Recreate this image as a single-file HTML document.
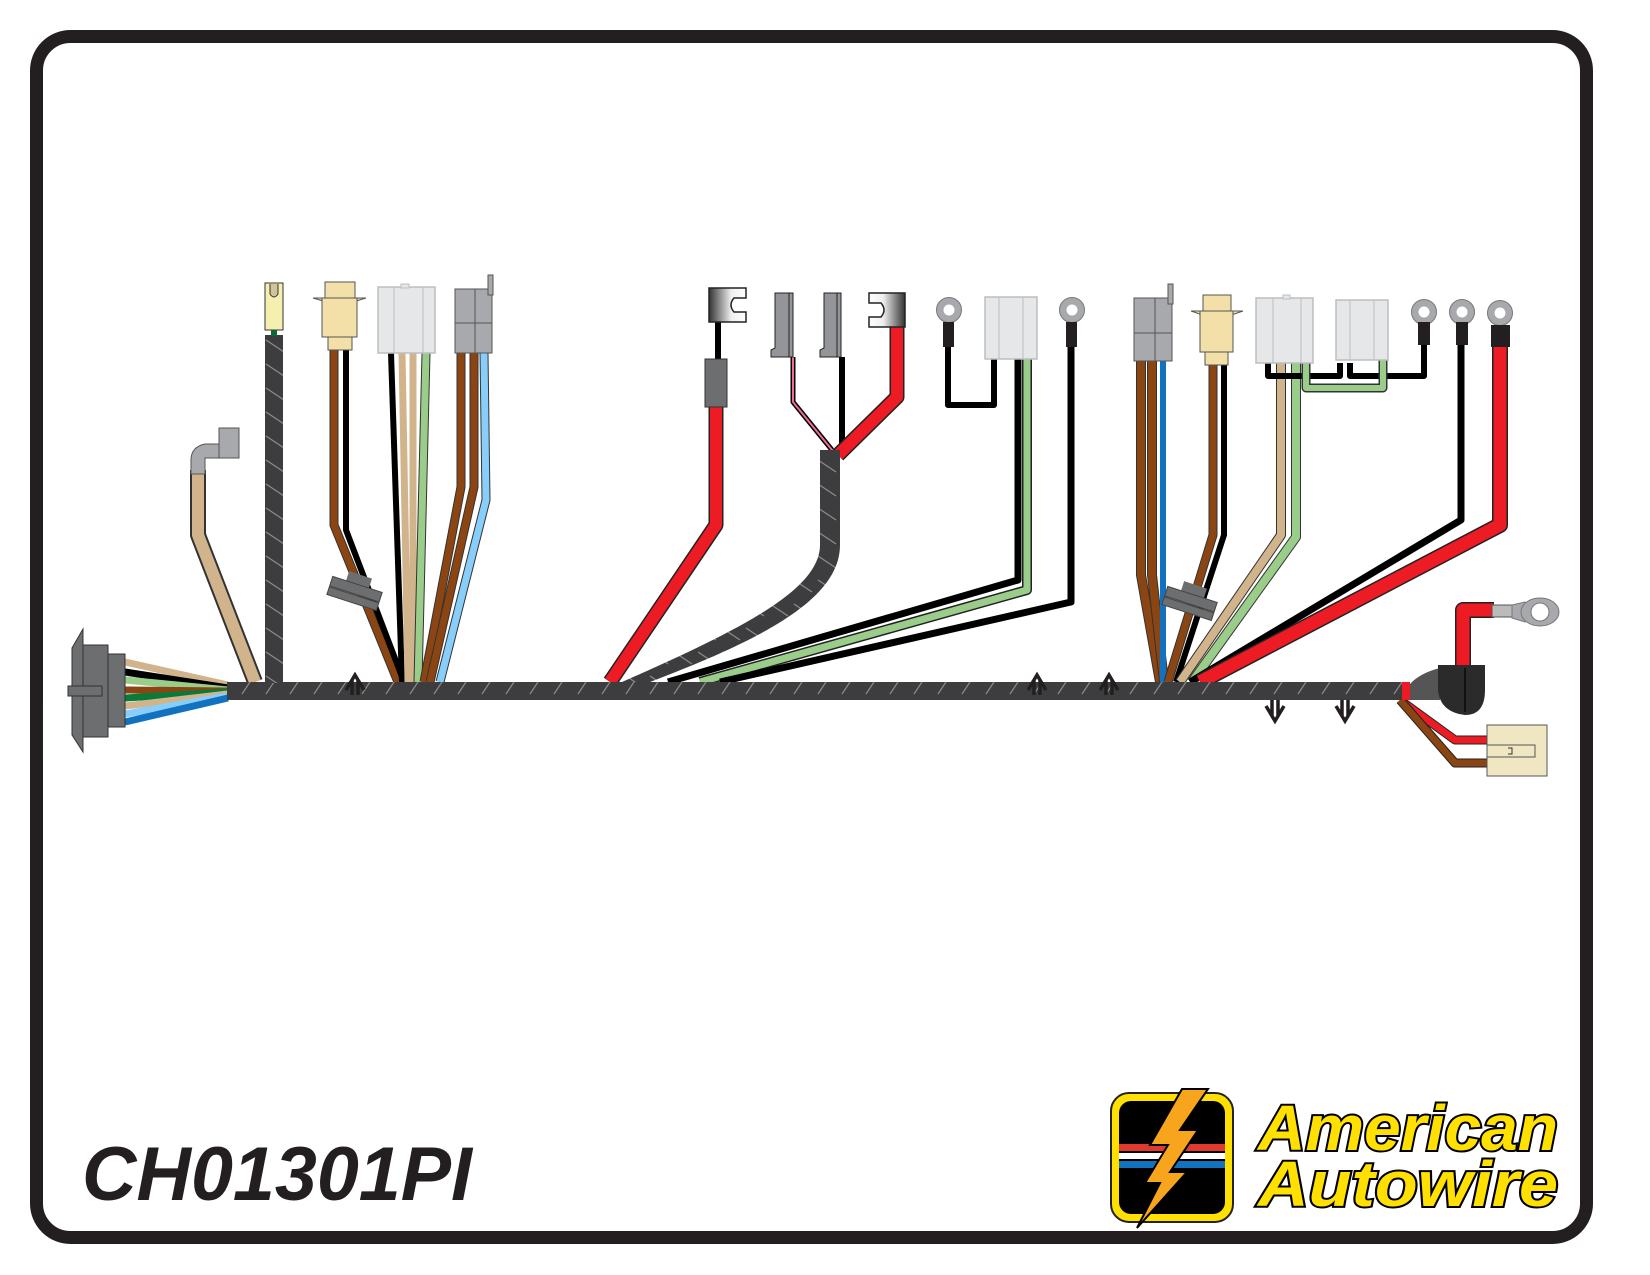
<!DOCTYPE html>
<html><head><meta charset="utf-8"><style>
html,body{margin:0;padding:0;background:#fff;}
svg{display:block;}
</style></head><body>
<svg width="1650" height="1275" viewBox="0 0 1650 1275" xmlns="http://www.w3.org/2000/svg">
<defs>
<pattern id="hatch" patternUnits="userSpaceOnUse" width="24" height="24" patternTransform="rotate(0)">
<rect width="24" height="24" fill="#3d3d3f"/>
<line x1="2" y1="22" x2="14" y2="4" stroke="#8a8a8a" stroke-width="1.2"/>
</pattern>
<pattern id="hatchv" patternUnits="userSpaceOnUse" width="24" height="24">
<rect width="24" height="24" fill="#3d3d3f"/>
<line x1="2" y1="4" x2="20" y2="16" stroke="#8a8a8a" stroke-width="1.2"/>
</pattern>
</defs>
<!-- frame -->
<rect x="36.5" y="36.5" width="1550" height="1201" rx="34" fill="#fff" stroke="#231f20" stroke-width="13"/>

<g stroke-linejoin="round" fill="none">
<!-- left fan wires -->
<g stroke-width="7">
<path d="M125 662 L228 685" stroke="#d2b48c"/>
<path d="M125 672 L228 688" stroke="#000"/>
<path d="M125 680 L228 690" stroke="#9acd8a"/>
<path d="M125 690 L228 691" stroke="#8b4513"/>
<path d="M125 698 L228 692" stroke="#0a7a3a"/>
<path d="M125 706 L228 694" stroke="#d2b48c"/>
<path d="M125 714 L228 696" stroke="#87cefa"/>
<path d="M125 722 L228 698" stroke="#1272c0"/>
</g>

<!-- tan wire to elbow -->
<path d="M198 470 L198 535 L255 682" stroke="#333" stroke-width="16"/>
<path d="M198 470 L198 535 L255 682" stroke="#d2b48c" stroke-width="12"/>

<!-- brown/black pair left -->
<path d="M334 350 L334 525 L398 682" stroke="#333" stroke-width="9"/>
<path d="M334 350 L334 525 L398 682" stroke="#8b4513" stroke-width="7"/>
<path d="M346 350 L346 530 L404 682" stroke="#000" stroke-width="6"/>
<!-- white connector wires -->
<path d="M391 353 L402 682" stroke="#000" stroke-width="6"/>
<path d="M402 353 L408 682" stroke="#d2b48c" stroke-width="7"/>
<path d="M413 353 L413 682" stroke="#d2b48c" stroke-width="7"/>
<path d="M426 353 L418 682" stroke="#333" stroke-width="9"/>
<path d="M426 353 L418 682" stroke="#9acd8a" stroke-width="7"/>
<!-- gray connector wires -->
<path d="M461 353 L461 487 L424 682" stroke="#333" stroke-width="9"/>
<path d="M461 353 L461 487 L424 682" stroke="#8b4513" stroke-width="7"/>
<path d="M474 353 L474 487 L430 682" stroke="#333" stroke-width="9"/>
<path d="M474 353 L474 487 L430 682" stroke="#8b4513" stroke-width="7"/>
<path d="M484 353 L486 500 L440 682" stroke="#333" stroke-width="9"/>
<path d="M484 353 L486 500 L440 682" stroke="#87cefa" stroke-width="7"/>

<!-- red wire middle -->
<path d="M718 322 L718 360" stroke="#000" stroke-width="6"/>
<path d="M716 407 L716 525 L610 682" stroke="#222" stroke-width="15"/>
<path d="M716 407 L716 525 L610 682" stroke="#ed1c24" stroke-width="12"/>
<!-- pink/black/red from spades -->
<path d="M793 357 L793 402 L832 450" stroke="#000" stroke-width="5"/>
<path d="M793 357 L793 402 L832 450" stroke="#f06a9a" stroke-width="2"/>
<path d="M842 357 L842 452" stroke="#000" stroke-width="6"/>
<path d="M897 327 L897 397 L838 455" stroke="#222" stroke-width="15"/>
<path d="M897 327 L897 397 L838 455" stroke="#ed1c24" stroke-width="12"/>
<!-- ring1 black loop -->
<path d="M948 345 L948 405 L994 405 L994 359" stroke="#000" stroke-width="6"/>
<!-- long black & green -->
<path d="M1018 359 L1018 580 L668 682" stroke="#000" stroke-width="7"/>
<path d="M1027 359 L1027 590 L700 682" stroke="#222" stroke-width="10"/>
<path d="M1027 359 L1027 590 L700 682" stroke="#9acd8a" stroke-width="7"/>
<path d="M1071 345 L1071 602 L720 682" stroke="#000" stroke-width="7"/>

<!-- right group -->
<path d="M1141 361 L1141 575 L1160 682" stroke="#333" stroke-width="10"/>
<path d="M1141 361 L1141 575 L1160 682" stroke="#8b4513" stroke-width="8"/>
<path d="M1152 361 L1152 575 L1164 682" stroke="#333" stroke-width="10"/>
<path d="M1152 361 L1152 575 L1164 682" stroke="#8b4513" stroke-width="8"/>
<path d="M1163 361 L1163 682" stroke="#1272c0" stroke-width="6"/>
<path d="M1213 365 L1213 535 L1168 682" stroke="#333" stroke-width="9"/>
<path d="M1213 365 L1213 535 L1168 682" stroke="#8b4513" stroke-width="7"/>
<path d="M1224 365 L1224 535 L1176 682" stroke="#000" stroke-width="6"/>
<path d="M1281 363 L1281 535 L1180 682" stroke="#333" stroke-width="10"/>
<path d="M1281 363 L1281 535 L1180 682" stroke="#d2b48c" stroke-width="8"/>
<path d="M1296 363 L1296 537 L1192 682" stroke="#333" stroke-width="10"/>
<path d="M1296 363 L1296 537 L1192 682" stroke="#9acd8a" stroke-width="8"/>
<!-- black/green loops top right -->
<path d="M1268 363 L1268 376 L1340 376 L1340 363 M1350 363 L1350 376 L1424 376 L1424 345" stroke="#000" stroke-width="6"/>
<path d="M1306 363 L1306 388 L1383 388 L1383 360" stroke="#333" stroke-width="9"/>
<path d="M1306 363 L1306 388 L1383 388 L1383 360" stroke="#9acd8a" stroke-width="6"/>
<path d="M1461 345 L1461 520 L1190 682" stroke="#000" stroke-width="7"/>
<path d="M1500 345 L1500 525 L1200 682" stroke="#222" stroke-width="16"/>
<path d="M1500 345 L1500 525 L1200 682" stroke="#ed1c24" stroke-width="13"/>

<!-- right end wires -->
<path d="M1463 665 L1463 610 L1494 610" stroke="#222" stroke-width="16"/>
<path d="M1463 665 L1463 610 L1494 610" stroke="#ed1c24" stroke-width="13"/>
<path d="M1400 700 L1455 740 L1488 740" stroke="#222" stroke-width="9"/>
<path d="M1400 700 L1455 740 L1488 740" stroke="#ed1c24" stroke-width="7"/>
<path d="M1400 700 L1455 763 L1488 763" stroke="#222" stroke-width="9"/>
<path d="M1400 700 L1455 763 L1488 763" stroke="#8b4513" stroke-width="7"/>
</g>

<!-- main harness -->
<rect x="227" y="682" width="1175" height="18" fill="url(#hatch)"/>
<rect x="1402" y="682" width="8" height="18" fill="#ed1c24"/>
<!-- vertical branch -->
<rect x="265" y="335" width="18" height="348" fill="url(#hatchv)"/>
<!-- curved sleeve -->
<path d="M820 450 L840 450 L840 545 C840 600 760 640 650 682 L622 682 C740 630 820 590 820 545 Z" fill="url(#hatchv)"/>

<!-- left connector -->
<path d="M72 648 L83 629 L83 752 L72 735 Z" fill="#6d6e70" stroke="#333"/>
<rect x="83" y="645" width="25" height="92" fill="#6d6e70" stroke="#333"/>
<rect x="108" y="654" width="17" height="73" fill="#6d6e70" stroke="#333"/>
<rect x="68" y="686" width="34" height="10" fill="#6d6e70" stroke="#333"/>

<!-- elbow -->
<path d="M191 474 L191 460 Q191 447 205 444 L219 444 L219 458 L205 458 L205 474 Z" fill="#a7a9ac" stroke="#555"/>
<rect x="219" y="428" width="20" height="30" fill="#a7a9ac" stroke="#555"/>

<!-- small yellow terminal -->
<rect x="265" y="283" width="18" height="47" fill="#f5efb0" stroke="#333"/>
<path d="M270 284 L270 294 Q274 300 278 294 L278 284" fill="#cfc49e" stroke="#333"/>
<rect x="271" y="330" width="6" height="6" fill="#0a6a30"/>

<!-- tan connector left -->
<rect x="325" y="282" width="30" height="16" fill="#f3dfa8" stroke="#555"/>
<path d="M313 298 L366 298 L340 306 Z" fill="#f3dfa8" stroke="#555"/>
<rect x="322" y="298" width="35" height="39" fill="#f3dfa8" stroke="#555"/>
<rect x="328" y="337" width="24" height="13" fill="#f3dfa8" stroke="#555"/>
<!-- grommet left -->
<g transform="translate(355,592) rotate(18)">
<rect x="-12" y="-18" width="24" height="10" fill="#6d6e70"/>
<rect x="-26" y="-8" width="52" height="10" fill="#6d6e70" stroke="#444"/>
<rect x="-26" y="3" width="52" height="8" fill="#6d6e70" stroke="#444"/>
</g>

<!-- white connector left -->
<rect x="378" y="287" width="57" height="66" fill="#e6e7e8" stroke="#bcbec0" stroke-width="1.5"/>
<line x1="394" y1="287" x2="394" y2="353" stroke="#bcbec0"/>
<line x1="423" y1="287" x2="423" y2="353" stroke="#bcbec0"/>
<rect x="401" y="284" width="8" height="4" fill="#e6e7e8" stroke="#bcbec0"/>

<!-- gray connector left -->
<rect x="455" y="289" width="37" height="64" fill="#a7a9ac" stroke="#555"/>
<line x1="475" y1="289" x2="475" y2="353" stroke="#555"/>
<line x1="455" y1="323" x2="492" y2="323" stroke="#555"/>
<rect x="488" y="275" width="5" height="20" fill="#a7a9ac" stroke="#555"/>

<!-- fork terminals -->
<defs><linearGradient id="fg" x1="0" x2="1"><stop offset="0" stop-color="#333"/><stop offset="0.6" stop-color="#eee"/><stop offset="1" stop-color="#fff"/></linearGradient>
<linearGradient id="fg2" x1="1" x2="0"><stop offset="0" stop-color="#333"/><stop offset="0.6" stop-color="#eee"/><stop offset="1" stop-color="#fff"/></linearGradient></defs>
<path d="M709 288 L746 288 L746 298 L734 298 Q728 305 734 312 L746 312 L746 322 L709 322 Z" fill="url(#fg)" stroke="#222" stroke-width="1.5"/>
<path d="M905 293 L869 293 L869 303 L881 303 Q887 310 881 317 L869 317 L869 327 L905 327 Z" fill="url(#fg2)" stroke="#222" stroke-width="1.5"/>
<rect x="705" y="359" width="22" height="48" fill="#6d6e70" stroke="#333"/>
<!-- spades -->
<path d="M775 293 L793 293 L793 357 L771 357 L771 350 L775 348 Z" fill="#939598" stroke="#222"/>
<line x1="789" y1="293" x2="789" y2="357" stroke="#222"/>
<path d="M824 293 L841 293 L841 357 L820 357 L820 350 L824 348 Z" fill="#939598" stroke="#222"/>
<line x1="837" y1="293" x2="837" y2="357" stroke="#222"/>

<!-- ring terminals -->
<g fill="none" stroke="#a7a9ac" stroke-width="7">
<circle cx="949" cy="310" r="9"/>
<circle cx="1072" cy="310" r="9"/>
<circle cx="1424" cy="312" r="9"/>
<circle cx="1462" cy="312" r="9"/>
<circle cx="1500" cy="313" r="9"/>
</g>
<g fill="none" stroke="#777" stroke-width="1">
<circle cx="949" cy="310" r="12.5"/><circle cx="1072" cy="310" r="12.5"/><circle cx="1424" cy="312" r="12.5"/><circle cx="1462" cy="312" r="12.5"/><circle cx="1500" cy="313" r="12.5"/>
</g>
<g fill="#231f20">
<rect x="943" y="322" width="11" height="25"/>
<rect x="1066" y="322" width="11" height="25"/>
<rect x="1418" y="322" width="12" height="23"/>
<rect x="1456" y="322" width="12" height="23"/>
<rect x="1491" y="325" width="19" height="22"/>
</g>

<!-- white connector mid -->
<rect x="985" y="297" width="52" height="62" fill="#e6e7e8" stroke="#bcbec0" stroke-width="1.5"/>
<line x1="999" y1="297" x2="999" y2="359" stroke="#bcbec0"/>
<line x1="1023" y1="297" x2="1023" y2="359" stroke="#bcbec0"/>

<!-- gray connector right -->
<rect x="1134" y="298" width="38" height="63" fill="#a7a9ac" stroke="#555"/>
<line x1="1155" y1="298" x2="1155" y2="361" stroke="#555"/>
<line x1="1134" y1="333" x2="1172" y2="333" stroke="#555"/>
<rect x="1168" y="284" width="5" height="20" fill="#a7a9ac" stroke="#555"/>

<!-- tan connector right -->
<rect x="1203" y="295" width="28" height="16" fill="#f3dfa8" stroke="#555"/>
<path d="M1191 311 L1243 311 L1217 320 Z" fill="#f3dfa8" stroke="#555"/>
<rect x="1200" y="311" width="33" height="41" fill="#f3dfa8" stroke="#555"/>
<rect x="1205" y="352" width="23" height="13" fill="#f3dfa8" stroke="#555"/>
<!-- grommet right -->
<g transform="translate(1190,602) rotate(18)">
<rect x="-12" y="-18" width="24" height="10" fill="#6d6e70"/>
<rect x="-26" y="-8" width="52" height="10" fill="#6d6e70" stroke="#444"/>
<rect x="-26" y="3" width="52" height="8" fill="#6d6e70" stroke="#444"/>
</g>

<!-- white connectors right -->
<rect x="1256" y="298" width="57" height="65" fill="#e6e7e8" stroke="#bcbec0" stroke-width="1.5"/>
<line x1="1273" y1="298" x2="1273" y2="363" stroke="#bcbec0"/>
<line x1="1301" y1="298" x2="1301" y2="363" stroke="#bcbec0"/>
<rect x="1283" y="295" width="7" height="4" fill="#e6e7e8" stroke="#bcbec0"/>
<rect x="1336" y="300" width="52" height="60" fill="#e6e7e8" stroke="#bcbec0" stroke-width="1.5"/>
<line x1="1350" y1="300" x2="1350" y2="360" stroke="#bcbec0"/>
<line x1="1374" y1="300" x2="1374" y2="360" stroke="#bcbec0"/>

<!-- boot right -->
<path d="M1410 684 Q1420 673 1440 668 L1440 700 L1410 700 Z" fill="#555"/>
<path d="M1438 665 L1485 665 L1485 690 Q1485 715 1465 715 Q1440 712 1438 690 Z" fill="#2b2b2b"/>
<line x1="1465" y1="668" x2="1465" y2="712" stroke="#111" stroke-width="2"/>
<!-- ring right end -->
<rect x="1492" y="605" width="20" height="12" fill="#bbb" stroke="#555"/>
<path d="M1512 605 L1525 602 L1525 622 L1512 618 Z" fill="#a7a9ac" stroke="#777"/>
<ellipse cx="1540" cy="612" rx="19" ry="14" fill="#a7a9ac" stroke="#777"/>
<circle cx="1540" cy="612" r="9" fill="#fff" stroke="#777"/>
<!-- cream connector -->
<rect x="1487" y="725" width="60" height="51" fill="#f0e6c2" stroke="#555"/>
<rect x="1487" y="745" width="48" height="12" fill="none" stroke="#555"/>
<path d="M1508 748 L1512 748 L1512 754 L1508 754" fill="none" stroke="#333"/>

<!-- arrows -->
<g stroke="#231f20" stroke-width="3.5" fill="none">
<path d="M358 695 L358 680 M352 695 L352 680 M346 690 L355 675 L364 690"/>
<path d="M1040 695 L1040 680 M1034 695 L1034 680 M1028 690 L1037 675 L1046 690"/>
<path d="M1112 695 L1112 680 M1106 695 L1106 680 M1100 690 L1109 675 L1118 690"/>
<path d="M1272 700 L1272 716 M1278 700 L1278 716 M1266 706 L1275 721 L1284 706"/>
<path d="M1342 700 L1342 716 M1348 700 L1348 716 M1336 706 L1345 721 L1354 706"/>
</g>

<!-- part number -->
<text x="82" y="1200" font-family="Liberation Sans, sans-serif" font-weight="bold" font-style="italic" font-size="76" fill="#231f20" textLength="390" lengthAdjust="spacingAndGlyphs">CH01301PI</text>

<!-- logo -->
<rect x="1111" y="1093" width="122" height="129" rx="18" fill="#ffe000" stroke="#222" stroke-width="2"/>
<rect x="1119" y="1101" width="106" height="113" rx="12" fill="#000"/>
<rect x="1119" y="1144" width="106" height="7" fill="#e03a2e"/>
<rect x="1119" y="1153" width="106" height="6" fill="#fff"/>
<rect x="1119" y="1161" width="106" height="7" fill="#1272c0"/>
<path d="M1182 1089 L1208 1089 L1180 1130 L1198 1130 L1170 1172 L1187 1172 L1137 1228 L1160 1183 L1145 1183 L1168 1145 L1150 1145 Z" fill="#f7a51c" stroke="#000" stroke-width="2"/>
<g font-family="Liberation Sans, sans-serif" font-weight="bold" font-style="italic" font-size="64" fill="#ffe000" stroke="#000" stroke-width="4" paint-order="stroke">
<text x="1258" y="1150" textLength="300" lengthAdjust="spacingAndGlyphs">American</text>
<text x="1258" y="1206" textLength="300" lengthAdjust="spacingAndGlyphs">Autowire</text>
</g>
</svg>
</body></html>
